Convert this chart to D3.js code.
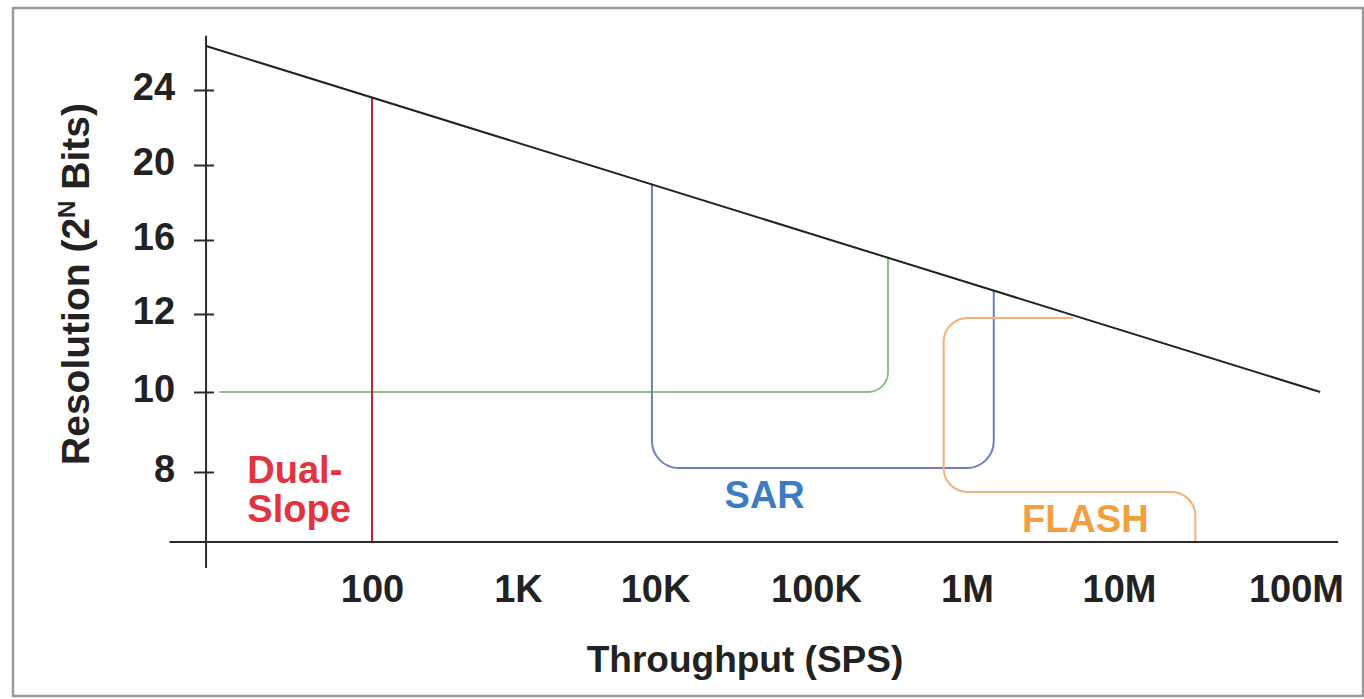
<!DOCTYPE html>
<html>
<head>
<meta charset="utf-8">
<script src="https://cdn.jsdelivr.net/npm/d3@7/dist/d3.min.js"></script>
<style>
  html, body { margin: 0; padding: 0; background: #fff; }
  svg { display: block; font-family: "Liberation Sans", Arial, sans-serif; font-weight: bold; }
</style>
</head>
<body>
<svg id="chart"></svg>
<script>
// tick values and labels
const xTicks = [1e2, 1e3, 1e4, 1e5, 1e6, 1e7, 1e8];
const xTickLabels = ["100", "1K", "10K", "100K", "1M", "10M", "100M"];
const yTicks = [8, 10, 12, 16, 20, 24];

// [throughput (SPS), resolution (bits)]
const limitLine = [[7.3, 26.35], [1.37e8, 10]];
const dualSlope = [[100, 6.25], [100, 23.6]];
const deltaSigma = [[9, 10], [3e5, 10], [3e5, 15.1]]; // green, not labelled
const sar = [[9.5e3, 19.0], [9.5e3, 8.1], [1.5e6, 8.1], [1.5e6, 13.3]];
const flash = [[5.0e6, 11.9], [7e5, 11.9], [7e5, 7.5], [2.7e7, 7.5], [2.7e7, 6.25]];

// annotation anchors, also in data units
const dualSlopeLabel = { x: 14, y: 7.73, lines: ["Dual-", "Slope"] };
const sarLabel = { x: 4.8e4, y: 7.1, text: "SAR" };
const flashLabel = { x: 6.0e6, y: 6.5, text: "FLASH" };

// where the axes cross / end
const X_ORIGIN = 7.3, Y_ORIGIN = 6.25;
const X_EXTENT = [4.1, 1.73e8];
const Y_EXTENT = [5.6, 26.9];

const WIDTH = 1364, HEIGHT = 699;
// hand drawn original: decades and bit steps are not evenly spaced, so piecewise scales
const X_POS = [372, 518, 655, 816, 967, 1119, 1296];
const Y_POS = [472, 392, 314, 240, 165, 90];

const x = d3.scaleLog().domain(xTicks).range(X_POS);
const y = d3.scaleLinear().domain(yTicks).range(Y_POS);

const svg = d3.select("#chart").attr("width", WIDTH).attr("height", HEIGHT);

// outer frame
svg.append("rect")
  .attr("x", 13).attr("y", 8)
  .attr("width", WIDTH - 14).attr("height", HEIGHT - 11)
  .attr("fill", "none")
  .attr("stroke", "#9a9a9a")
  .attr("stroke-width", 2.5);

// polyline with rounded corners
function roundedPath(pts, r) {
  const p = d3.path();
  const px = pts.map(([a, b]) => [x(a), y(b)]);
  p.moveTo(px[0][0], px[0][1]);
  for (let i = 1; i < px.length - 1; i++) {
    p.arcTo(px[i][0], px[i][1], px[i + 1][0], px[i + 1][1], r);
  }
  p.lineTo(px[px.length - 1][0], px[px.length - 1][1]);
  return p.toString();
}

const regions = [
  { pts: deltaSigma, color: "#8dbf8d", r: 20 },
  { pts: sar, color: "#6b80b9", r: 27 },
  { pts: flash, color: "#f3b27c", r: 24 },
  { pts: dualSlope, color: "#b8243c", r: 0 },
];

svg.append("g")
  .selectAll("path")
  .data(regions)
  .join("path")
  .attr("d", (d) => roundedPath(d.pts, d.r))
  .attr("fill", "none")
  .attr("stroke", (d) => d.color)
  .attr("stroke-width", 2);

// axes
const axisColor = "#2b2b2b";

svg.append("line")
  .attr("x1", x(X_ORIGIN)).attr("x2", x(X_ORIGIN))
  .attr("y1", y(Y_EXTENT[0])).attr("y2", y(Y_EXTENT[1]))
  .attr("stroke", axisColor).attr("stroke-width", 2);

svg.append("line")
  .attr("x1", x(X_EXTENT[0])).attr("x2", x(X_EXTENT[1]))
  .attr("y1", y(Y_ORIGIN)).attr("y2", y(Y_ORIGIN))
  .attr("stroke", axisColor).attr("stroke-width", 2);

svg.append("g")
  .attr("transform", `translate(${x(X_ORIGIN)},0)`)
  .call(d3.axisLeft(y).tickValues(yTicks).tickSize(12).tickPadding(19))
  .call((g) => g.select(".domain").remove())
  .call((g) => g.selectAll(".tick line").attr("x1", 8).attr("stroke", axisColor).attr("stroke-width", 2))
  .call((g) => g.selectAll(".tick text").attr("dy", "0.26em").attr("fill", "#222"))
  .attr("font-family", null)
  .attr("font-size", 38);

svg.append("g")
  .attr("transform", `translate(0,${y(Y_ORIGIN)})`)
  .call(d3.axisBottom(x).tickValues(xTicks).tickFormat((d, i) => xTickLabels[i]).tickSize(0).tickPadding(33))
  .call((g) => g.select(".domain").remove())
  .call((g) => g.selectAll(".tick text").attr("fill", "#222"))
  .attr("font-family", null)
  .attr("font-size", 38);

// upper limit line
svg.append("path")
  .datum(limitLine)
  .attr("d", d3.line().x((d) => x(d[0])).y((d) => y(d[1])))
  .attr("fill", "none")
  .attr("stroke", "#222")
  .attr("stroke-width", 2);

// labels
svg.append("text")
  .attr("x", x(dualSlopeLabel.x))
  .attr("y", y(dualSlopeLabel.y))
  .attr("fill", "#e2333f")
  .attr("font-size", 38)
  .selectAll("tspan")
  .data(dualSlopeLabel.lines)
  .join("tspan")
  .attr("x", x(dualSlopeLabel.x))
  .attr("dy", (d, i) => (i === 0 ? 0 : 39))
  .text((d) => d);

svg.append("text")
  .attr("x", x(sarLabel.x)).attr("y", y(sarLabel.y))
  .attr("text-anchor", "middle")
  .attr("fill", "#3b7cc3")
  .attr("font-size", 38)
  .text(sarLabel.text);

svg.append("text")
  .attr("x", x(flashLabel.x)).attr("y", y(flashLabel.y))
  .attr("text-anchor", "middle")
  .attr("fill", "#f0a03e")
  .attr("font-size", 38)
  .text(flashLabel.text);

// axis titles
svg.append("text")
  .attr("x", 745).attr("y", 672)
  .attr("text-anchor", "middle")
  .attr("fill", "#222")
  .attr("font-size", 37)
  .text("Throughput (SPS)");

const yTitle = svg.append("text")
  .attr("transform", "translate(89,284) rotate(-90)")
  .attr("text-anchor", "middle")
  .attr("fill", "#222")
  .attr("font-size", 39);
yTitle.append("tspan").text("Resolution (2");
yTitle.append("tspan").attr("font-size", 24).attr("dy", -14).text("N");
yTitle.append("tspan").attr("dy", 14).text(" Bits)");
</script>
</body>
</html>
